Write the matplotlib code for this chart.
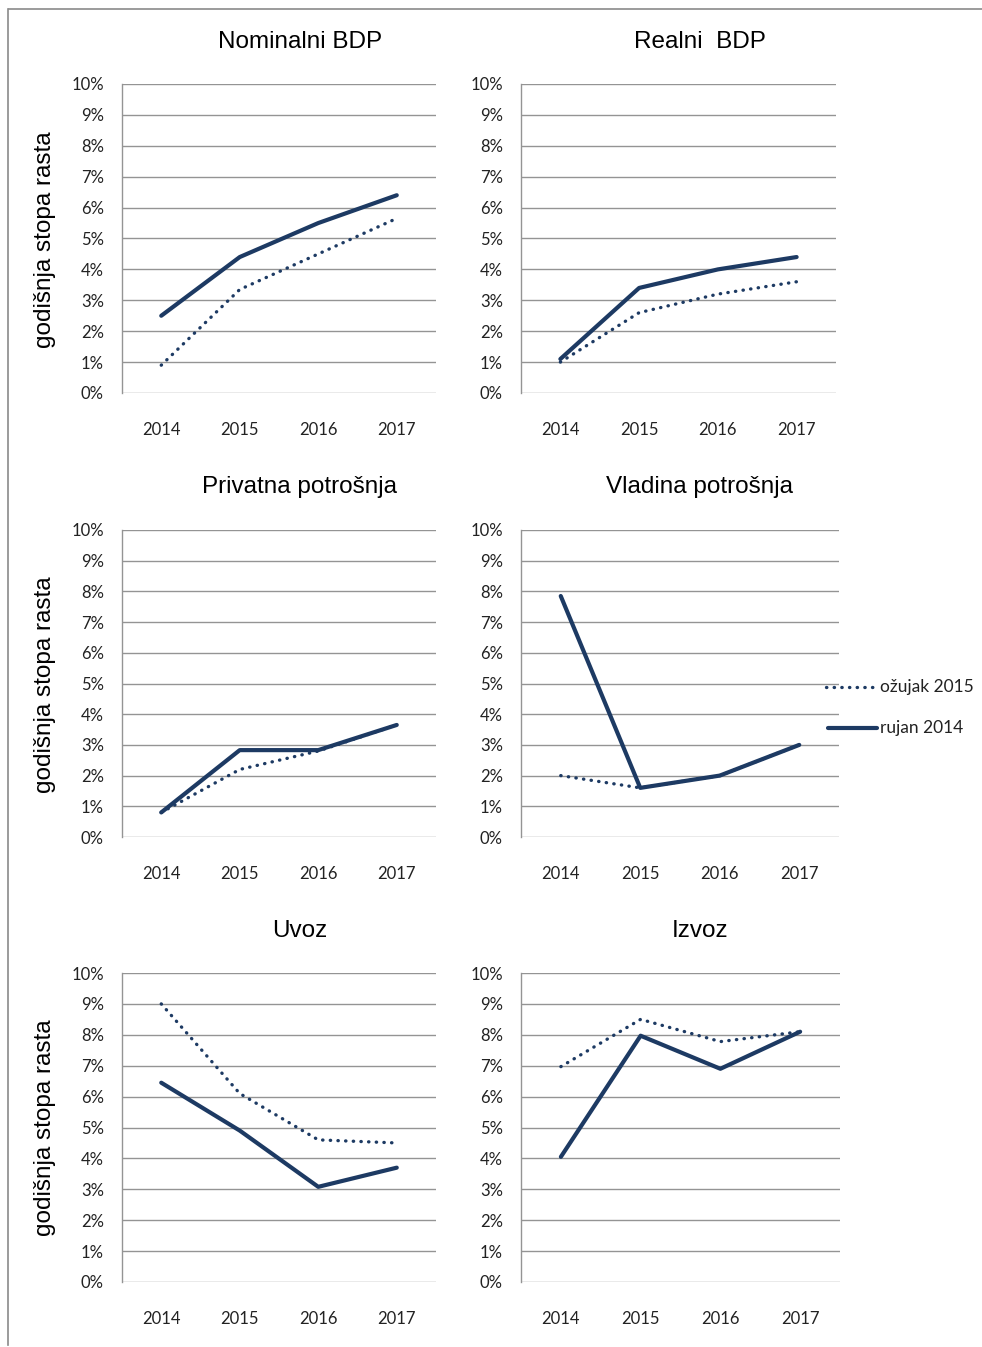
import matplotlib
matplotlib.use("Agg")
import matplotlib.pyplot as plt
from matplotlib.lines import Line2D

# podaci - godisnja stopa rasta (%)
godine = ['2014', '2015', '2016', '2017']

nominalni_rujan = [2.5, 4.4, 5.5, 6.4]
nominalni_ozujak = [0.9, 3.35, 4.5, 5.65]

realni_rujan = [1.1, 3.4, 4.0, 4.4]
realni_ozujak = [1.0, 2.6, 3.2, 3.6]

privatna_rujan = [0.8, 2.83, 2.83, 3.65]
privatna_ozujak = [0.8, 2.2, 2.8, 3.65]

vladina_rujan = [7.85, 1.6, 2.0, 3.0]
vladina_ozujak = [2.0, 1.6, 2.0, 3.0]

uvoz_rujan = [6.45, 4.9, 3.08, 3.7]
uvoz_ozujak = [9.0, 6.1, 4.6, 4.5]

izvoz_rujan = [4.05, 7.97, 6.9, 8.1]
izvoz_ozujak = [6.97, 8.5, 7.78, 8.1]

naslovi = ['Nominalni BDP', 'Realni  BDP', 'Privatna potrošnja',
           'Vladina potrošnja', 'Uvoz', 'Izvoz']
serije_rujan = [nominalni_rujan, realni_rujan, privatna_rujan,
                vladina_rujan, uvoz_rujan, izvoz_rujan]
serije_ozujak = [nominalni_ozujak, realni_ozujak, privatna_ozujak,
                 vladina_ozujak, uvoz_ozujak, izvoz_ozujak]

W, H = 982, 1347
boja = '#1d3a63'
siva = '#949494'

fig = plt.figure(figsize=(W / 100, H / 100), dpi=100)

# pozicije panela u pikselima (lijevo, desno, gore, dolje)
okviri = [
    (122, 436, 84, 393), (521, 836, 84, 393),
    (122, 436, 530, 837), (521, 839, 530, 837),
    (122, 436, 973, 1282), (521, 840, 973, 1282),
]
# sredista naslova (x, y) u pikselima
naslov_xy = [(300, 42), (700, 42), (300, 487), (700, 487), (300, 931), (700, 931)]

def px_ax(l, r, t, b):
    return fig.add_axes([l / W, 1 - b / H, (r - l) / W, (b - t) / H])

for i, (l, r, t, b) in enumerate(okviri):
    ax = px_ax(l, r, t, b)
    x = range(len(godine))
    ax.plot(x, serije_ozujak[i], color=boja, lw=2.4,
            linestyle=(0, (0.1, 2.2)), dash_capstyle='round', zorder=3)
    ax.plot(x, serije_rujan[i], color=boja, lw=3.0,
            solid_capstyle='round', solid_joinstyle='round', zorder=4)
    ax.set_xlim(-0.5, 3.5)
    ax.set_ylim(0, 10)
    ax.set_yticks(range(0, 11))
    ax.set_yticklabels([f'{v}%' for v in range(0, 11)])
    ax.set_xticks(list(x))
    ax.set_xticklabels(godine)
    ax.grid(axis='y', color=siva, lw=1.0)
    ax.set_axisbelow(True)
    for s in ['top', 'right', 'bottom']:
        ax.spines[s].set_visible(False)
    ax.spines['left'].set_color(siva)
    ax.spines['left'].set_linewidth(1.0)
    ax.tick_params(length=0, labelsize=12, colors='#222222')
    ax.tick_params(axis='y', pad=13)
    ax.tick_params(axis='x', pad=21)
    for lab in ax.get_xticklabels() + ax.get_yticklabels():
        lab.set_family('Lato')
    tx, ty = naslov_xy[i]
    fig.text(tx / W, 1 - ty / H, naslovi[i], fontsize=17.5,
             family='Liberation Sans', ha='center', va='center')

# os y opis za lijeve panele
for yc in [240, 685, 1128]:
    fig.text(45 / W, 1 - yc / H, 'godišnja stopa rasta', rotation=90,
             ha='center', va='center', fontsize=17.5, family='Liberation Sans')

# legenda
fig.add_artist(Line2D([826 / W, 874 / W], [1 - 687 / H, 1 - 687 / H], color=boja,
                      lw=2.4, linestyle=(0, (0.1, 2.2)), dash_capstyle='round'))
fig.add_artist(Line2D([828 / W, 877 / W], [1 - 728 / H, 1 - 728 / H], color=boja,
                      lw=3.0, solid_capstyle='round'))
fig.text(880 / W, 1 - 687 / H, 'ožujak 2015', fontsize=12.5, family='Lato',
         va='center', ha='left', color='#222222')
fig.text(880 / W, 1 - 728 / H, 'rujan 2014', fontsize=12.5, family='Lato',
         va='center', ha='left', color='#222222')

# okvir
fig.add_artist(Line2D([9 / W, 1.0], [1 - 9 / H, 1 - 9 / H], color='#8a8a8a', lw=1.2))
fig.add_artist(Line2D([8 / W, 8 / W], [1 - 9 / H, 1 - 1345 / H], color='#8a8a8a', lw=1.2))

fig.savefig('out.png', dpi=100)
